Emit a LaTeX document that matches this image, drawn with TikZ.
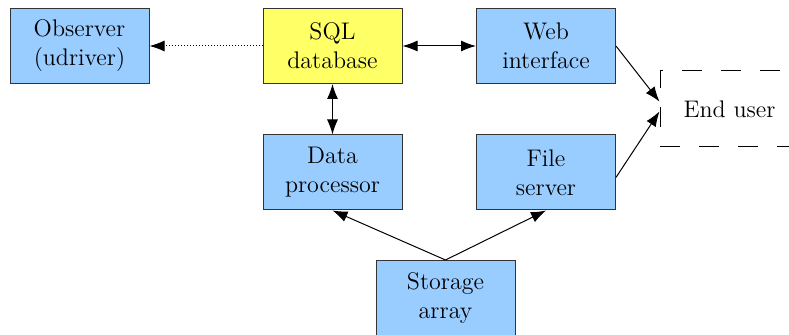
\documentclass[tikz,border=0pt]{standalone}
\usepackage{xcolor}
\usetikzlibrary{arrows.meta,calc}
\definecolor{boxblue}{RGB}{153,204,255}
\definecolor{boxyellow}{RGB}{255,255,102}
\tikzstyle{block} = [rectangle, minimum width=69.5pt, minimum height=37.5pt, inner sep=1pt, align=center, draw=black!80, line width=0.5pt, fill=boxblue, font=\fontsize{12}{14.5}\selectfont]
\tikzstyle{dbbox} = [block, fill=boxyellow]
\tikzset{
  userbox/.style={
    rectangle,
    minimum width=69.5pt,
    minimum height=38pt,
    draw=black,
    line width=0.5pt,
    dash pattern=on 10pt off 9.5pt, % open dashed frame round the user
    font=\fontsize{12}{14.5}\selectfont
  }
}
\tikzstyle{arrow} = [line width=0.5pt,->,>={Latex[length=7.5pt,width=5.5pt]}]

\begin{document}
\begin{tikzpicture}[x=0.5pt, y=-0.5pt, node distance=63.25pt]
    \useasboundingbox (0,0) rectangle (789,335);
    \clip (0,0) rectangle (789,335);
    \node (obs)[block] at (79.5,46) {Observer\\(udriver)};
    \node (sql)[dbbox] at (332.5,46) {SQL\\database};
    \node (web)[block] at (546,46) {Web\\interface};
    \node (proc)[block, below of=sql]{Data\\processor};
    \node (files)[block, below of=web]{File\\server};
    \node (store)[block, below of=proc, xshift=56.5pt, yshift=0.5pt]{Storage\\array};
    \node (user)[userbox] at (729.5,109) {End user};
    \draw [arrow, densely dotted] (sql)--(obs);
    \draw [arrow, <->] (sql)--(web);
    \draw [arrow, <->] (sql)--(proc);
    \draw [arrow] (web.east)--(user.174);
    \draw [arrow] (files.-4)--(user.182);
    \draw [arrow] (store.north)--(proc.south);
    \draw [arrow] (store.north)--(files.south);

  \end{tikzpicture}
\end{document}
